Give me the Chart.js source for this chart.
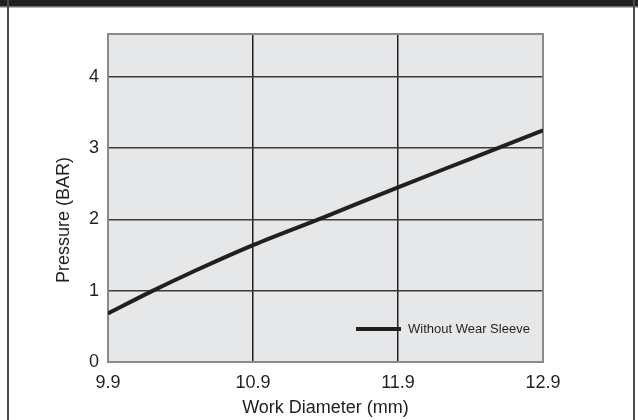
<!DOCTYPE html>
<html>
<head>
<meta charset="utf-8">
<script src="https://cdn.jsdelivr.net/npm/chart.js@4"></script>
<style>
  html, body { margin: 0; padding: 0; background: #fff; }
  #wrap { width: 638px; height: 420px; position: relative; }
</style>
</head>
<body>
<div id="wrap"><canvas id="pressureChart" width="638" height="420"></canvas></div>
<script>
  // datos
  const diameter = [9.9, 10.2, 10.5, 10.9, 11.4, 11.9, 12.4, 12.9];
  const pressure = [0.68, 0.99, 1.28, 1.64, 2.04, 2.45, 2.85, 3.25];
  const xTicks = [9.9, 10.9, 11.9, 12.9];
  const yTicks = [0, 1, 2, 3, 4];
  const seriesName = "Without Wear Sleeve";
  const xTitle = "Work Diameter (mm)";
  const yTitle = "Pressure (BAR)";

  const FONT = "'Liberation Sans Narrow', 'Arial Narrow', 'Liberation Sans', sans-serif";

  // marco, fondo gris, título Y y leyenda dentro del área
  const frame = {
    id: "frame",
    beforeDraw(chart) {
      const { ctx, chartArea: a } = chart;
      ctx.save();
      ctx.fillStyle = "#e6e7e8";
      ctx.fillRect(a.left, a.top, a.right - a.left, a.bottom - a.top);
      ctx.restore();
    },
    beforeDatasetsDraw(chart) {
      const { ctx, chartArea: a } = chart;
      ctx.save();
      ctx.strokeStyle = "#8a8a8a";
      ctx.lineWidth = 2;
      ctx.strokeRect(a.left, a.top, a.right - a.left, a.bottom - a.top);
      ctx.restore();
    },
    afterDraw(chart) {
      const { ctx } = chart;
      ctx.save();
      // cabecera negra
      ctx.fillStyle = "#231f20";
      ctx.fillRect(0, 0, 638, 6);
      ctx.fillStyle = "#6d6e70";
      ctx.fillRect(0, 6, 638, 1.5);
      // lados
      ctx.fillStyle = "#4a4a4a";
      ctx.fillRect(7, 0, 2, 420);
      ctx.fillRect(633, 0, 2, 420);
      // título del eje Y
      ctx.fillStyle = "#231f20";
      ctx.font = "18px " + FONT;
      ctx.textAlign = "center";
      ctx.textBaseline = "middle";
      ctx.translate(64, 220);
      ctx.rotate(-Math.PI / 2);
      ctx.fillText(yTitle, 0, 0);
      ctx.restore();

      // leyenda
      ctx.save();
      ctx.strokeStyle = "#231f20";
      ctx.lineWidth = 4;
      ctx.beginPath();
      ctx.moveTo(356, 329);
      ctx.lineTo(401, 329);
      ctx.stroke();
      ctx.fillStyle = "#231f20";
      ctx.font = "13px " + FONT;
      ctx.textBaseline = "middle";
      ctx.fillText(seriesName, 408, 329);
      ctx.restore();
    }
  };

  const ctx = document.getElementById("pressureChart").getContext("2d");
  new Chart(ctx, {
    type: "line",
    data: {
      datasets: [
        {
          label: seriesName,
          data: diameter.map((d, i) => ({ x: d, y: pressure[i] })),
          borderColor: "#231f20",
          borderWidth: 4,
          pointRadius: 0,
          fill: false,
          tension: 0.4,
          cubicInterpolationMode: "monotone",
        },
      ],
    },
    options: {
      responsive: false,
      animation: false,
      layout: { padding: { left: 50, top: 34, right: 95, bottom: 0 } },
      plugins: { legend: { display: false }, tooltip: { enabled: false } },
      scales: {
        x: {
          type: "linear",
          min: 9.9,
          max: 12.9,
          afterBuildTicks: (axis) => { axis.ticks = xTicks.map((v) => ({ value: v })); },
          afterFit: (axis) => { axis.height = 58; },
          ticks: {
            color: "#231f20",
            font: { family: FONT, size: 18 },
            padding: 10,
            callback: (v) => v.toFixed(1),
          },
          grid: {
            drawTicks: false,
            color: (c) => (c.tick && (c.tick.value === 9.9 || c.tick.value === 12.9) ? "rgba(0,0,0,0)" : "#231f20"),
            lineWidth: 1.5,
          },
          border: { display: false },
          title: {
            display: true,
            text: xTitle,
            color: "#231f20",
            font: { family: FONT, size: 18 },
            padding: { top: 0, bottom: 1 },
          },
        },
        y: {
          min: 0,
          max: 4.6,
          afterBuildTicks: (axis) => { axis.ticks = yTicks.map((v) => ({ value: v })); },
          afterFit: (axis) => { axis.width = 58; },
          ticks: {
            color: "#231f20",
            font: { family: FONT, size: 18 },
            padding: 9,
          },
          grid: {
            drawTicks: false,
            color: (c) => (c.tick && c.tick.value === 0 ? "rgba(0,0,0,0)" : "#3a3a3a"),
            lineWidth: 1.5,
          },
          border: { display: false },
        },
      },
    },
    plugins: [frame],
  });
</script>
</body>
</html>
